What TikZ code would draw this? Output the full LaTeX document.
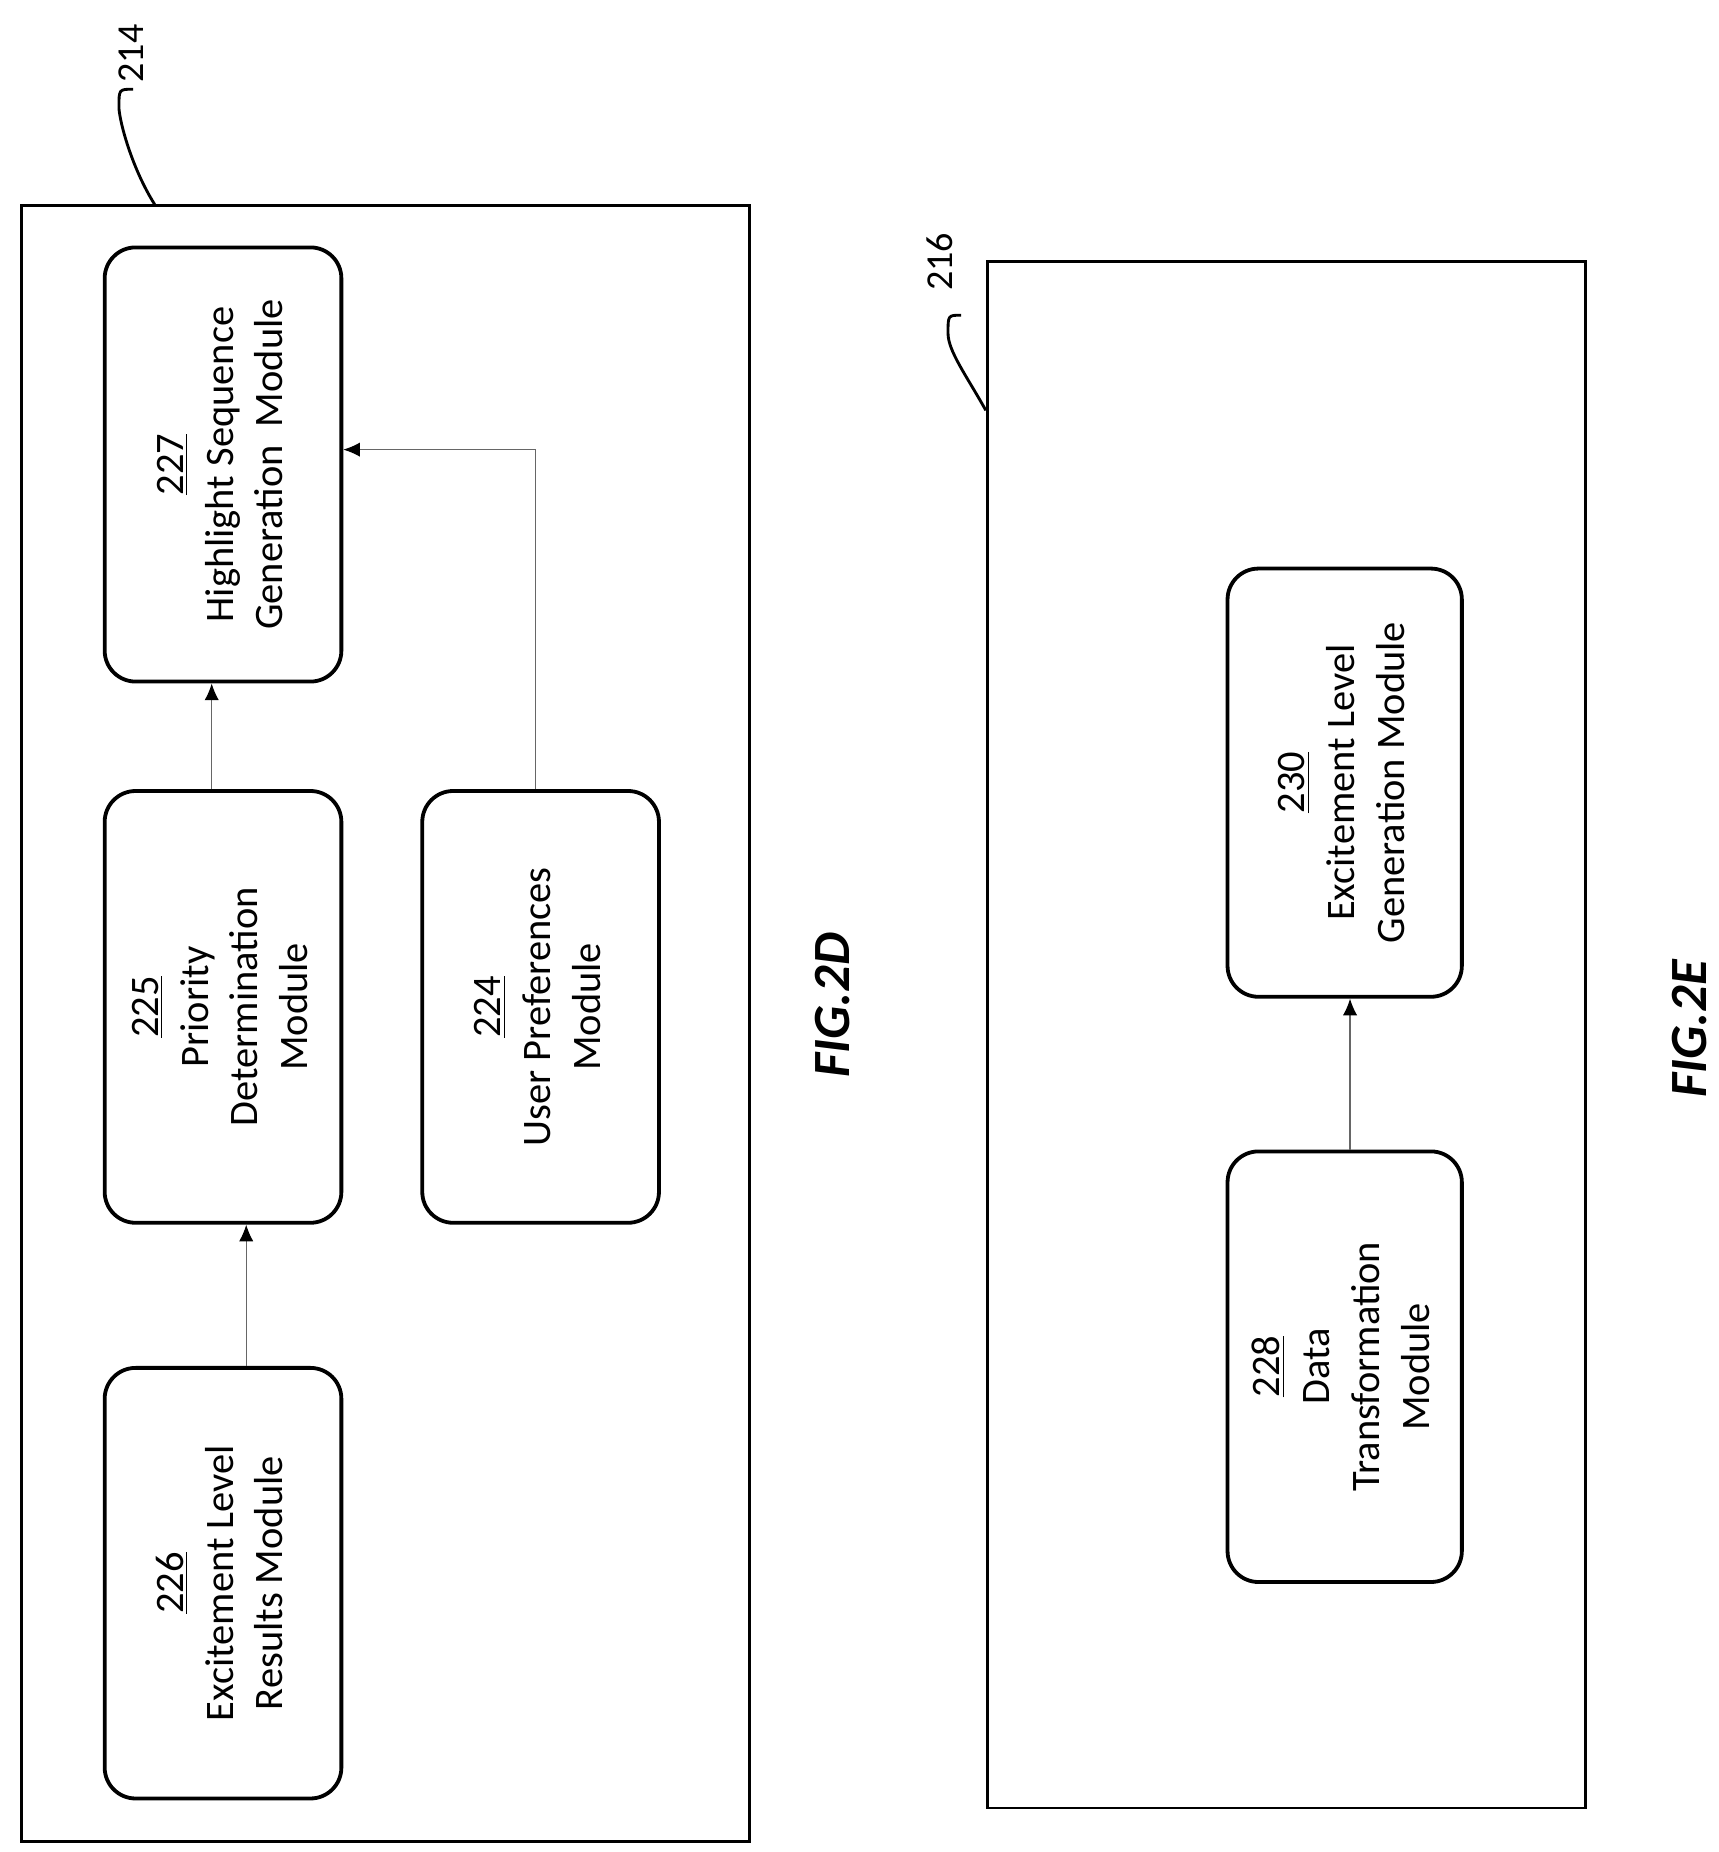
\documentclass[tikz,border=0pt]{standalone}
\usepackage{fontspec}
\setmainfont{Carlito}
\usetikzlibrary{arrows.meta}
\begin{document}
\begin{tikzpicture}[x=0.5pt,y=-0.5pt,
  mod/.style={draw,line width=1.6pt,rounded corners=13pt,inner sep=0pt,font=\fontsize{17}{21}\selectfont},
  frame/.style={draw,line width=1.2pt},
  arr/.style={draw=black!60,line width=0.5pt,-{Latex[black,length=7pt,width=6pt]}},
  lead/.style={line width=1.2pt},
  ref/.style={font=\fontsize{16}{19}\selectfont,rotate=90}]
\useasboundingbox (0,0) rectangle (1445,1557);
\newcommand{\rt}[1]{\rotatebox{90}{\begin{tabular}{c}#1\end{tabular}}}
% FIG 2D
\node[frame,minimum width=306pt,minimum height=687.5pt] (b214) at (324,860.5) {};
\node[ref] (l214) at (110,45) {214};
\draw[lead] (b214.north -| {130,0}) .. controls (110,140) and (100,100) .. (100,90) .. controls (100,75) .. (112,75);
\node[mod,minimum width=99.5pt,minimum height=182.5pt] (m227) at (187.5,390.5) {\rt{\underline{227}\\Highlight Sequence\\Generation\ \ Module}};
\node[mod,minimum width=99.5pt,minimum height=181.5pt] (m225) at (187.5,846.5) {\rt{\underline{225}\\Priority\\Determination\\Module}};
\node[mod,minimum width=99.5pt,minimum height=181pt] (m226) at (187.5,1331) {\rt{\underline{226}\\Excitement Level\\Results Module}};
\node[mod,minimum width=99.5pt,minimum height=181.5pt] (m224) at (454.5,846.5) {\rt{\underline{224}\\User Preferences\\Module}};
\coordinate (x207) at (207,0);
\coordinate (x178) at (178,0);
\coordinate (x450) at (450,0);
\coordinate (y378) at (0,378);
\draw[arr] (m226.north -| x207) -- (m225.south -| x207);
\draw[arr] (m225.north -| x178) -- (m227.south -| x178);
\draw[arr] (m224.north -| x450) -- (x450 |- y378) -- (m227.east |- y378);
\node[font=\fontsize{22}{26}\selectfont\bfseries\itshape,rotate=90] (f2d) at (700,845) {FIG.2D};
% FIG 2E
\node[frame,minimum width=251.5pt,minimum height=650pt] (b216) at (1081.5,870) {};
\node[ref] (l216) at (790,220) {216};
\draw[lead] (b216.west |- {0,345}) .. controls (812,315) and (797,295) .. (797,280) .. controls (797,265) .. (808,265);
\node[mod,minimum width=98.5pt,minimum height=180pt] (m230) at (1130.5,658) {\rt{\underline{230}\\Excitement Level\\Generation Module}};
\node[mod,minimum width=98.5pt,minimum height=181pt] (m228) at (1130.5,1149) {\rt{\underline{228}\\Data\\Transformation\\Module}};
\coordinate (x1135) at (1135,0);
\draw[arr] (m228.north -| x1135) -- (m230.south -| x1135);
\node[font=\fontsize{22}{26}\selectfont\bfseries\itshape,rotate=90] (f2e) at (1420,865) {FIG.2E};
\end{tikzpicture}
\end{document}
